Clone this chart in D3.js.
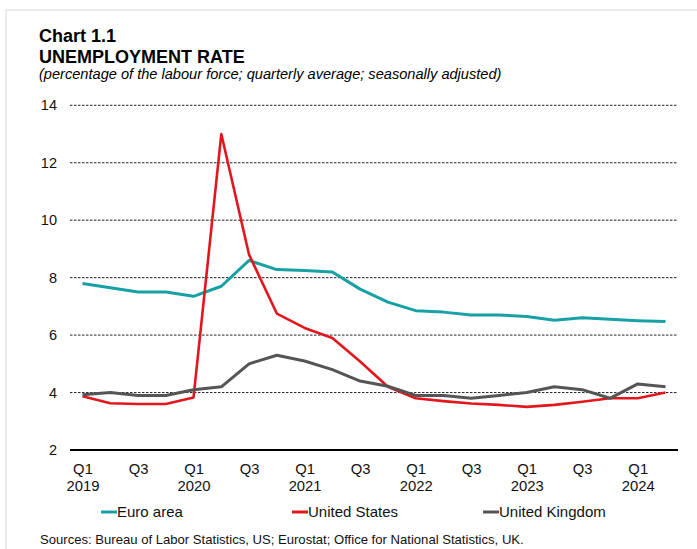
<!DOCTYPE html>
<html>
<head>
<meta charset="utf-8">
<script src="https://cdn.jsdelivr.net/npm/d3@7"></script>
<style>
  body { margin: 0; background: #fff; }
  svg { font-family: "Liberation Sans", Arial, sans-serif; }
</style>
</head>
<body>
<div id="chart"></div>
<script>
const quarters = ["Q1 2019","Q2 2019","Q3 2019","Q4 2019","Q1 2020","Q2 2020","Q3 2020","Q4 2020",
  "Q1 2021","Q2 2021","Q3 2021","Q4 2021","Q1 2022","Q2 2022","Q3 2022","Q4 2022",
  "Q1 2023","Q2 2023","Q3 2023","Q4 2023","Q1 2024","Q2 2024"];
const euroArea = [7.8, 7.65, 7.5, 7.5, 7.35, 7.7, 8.6, 8.28, 8.25, 8.2, 7.6, 7.15,
  6.85, 6.8, 6.7, 6.7, 6.65, 6.52, 6.6, 6.55, 6.5, 6.47];
const unitedStates = [3.87, 3.63, 3.6, 3.6, 3.83, 13.0, 8.8, 6.75, 6.25, 5.9, 5.08, 4.2,
  3.8, 3.7, 3.62, 3.57, 3.5, 3.57, 3.68, 3.8, 3.8, 4.0];
const unitedKingdom = [3.92, 4.0, 3.9, 3.9, 4.1, 4.2, 5.0, 5.3, 5.1, 4.8, 4.4, 4.22,
  3.9, 3.9, 3.8, 3.9, 4.0, 4.2, 4.1, 3.8, 4.3, 4.2];
const yTicks = [2, 4, 6, 8, 10, 12, 14];

const series = [
  { name: "Euro area", values: euroArea, color: "#17a1a5", width: 3 },
  { name: "United States", values: unitedStates, color: "#e3161d", width: 2.6 },
  { name: "United Kingdom", values: unitedKingdom, color: "#555555", width: 3 }
];

const W = 697, H = 549;
const plotLeft = 70, plotRight = 678;

const svg = d3.select("#chart").append("svg")
  .attr("width", W).attr("height", H);

// light frame
svg.append("rect")
  .attr("x", 6).attr("y", 10)
  .attr("width", W + 10).attr("height", H + 10)
  .attr("fill", "none").attr("stroke", "#ebebeb").attr("stroke-width", 2);

// titles
svg.append("text").attr("x", 39).attr("y", 42)
  .attr("font-size", 18).attr("font-weight", "bold").attr("fill", "#000").text("Chart 1.1");
svg.append("text").attr("x", 39).attr("y", 63)
  .attr("font-size", 18).attr("font-weight", "bold").attr("fill", "#000").text("UNEMPLOYMENT RATE");
svg.append("text").attr("x", 39).attr("y", 79)
  .attr("font-size", 14.6).attr("font-style", "italic").attr("fill", "#000")
  .text("(percentage of the labour force; quarterly average; seasonally adjusted)");

const x = d3.scalePoint()
  .domain(quarters)
  .range([plotLeft, plotRight])
  .padding(0.45);

const y = d3.scaleLinear()
  .domain([2, 14])
  .range([450, 105.3]);

// gridlines
svg.append("g").selectAll("line")
  .data(yTicks.filter(d => d > 2))
  .enter().append("line")
  .attr("x1", plotLeft).attr("x2", plotRight)
  .attr("y1", d => y(d)).attr("y2", d => y(d))
  .attr("stroke", "#222").attr("stroke-width", 1)
  .attr("stroke-dasharray", "2.5,1.5");

// y axis labels
const yAxis = svg.append("g")
  .attr("transform", `translate(${plotLeft},0)`)
  .call(d3.axisLeft(y).tickValues(yTicks).tickSize(0).tickPadding(13));
yAxis.select(".domain").remove();
yAxis.selectAll("text").attr("font-size", 14.5).attr("fill", "#111")
  .attr("font-family", "Liberation Sans, Arial, sans-serif");

// x axis
const xAxis = svg.append("g")
  .attr("transform", `translate(0,${y(2)})`)
  .call(d3.axisBottom(x)
    .tickValues(quarters.filter((q, i) => i % 2 === 0))
    .tickSize(0).tickPadding(0)
    .tickFormat(() => ""));
xAxis.select(".domain").attr("d", `M${plotLeft},0H${plotRight}`)
  .attr("stroke", "#000").attr("stroke-width", 2);
xAxis.selectAll(".tick").each(function(q) {
  const g = d3.select(this);
  const parts = q.split(" ");
  g.select("text").remove();
  g.append("text").attr("y", 24).attr("text-anchor", "middle")
    .attr("font-size", 14.8).attr("fill", "#111").text(parts[0]);
  if (parts[0] === "Q1") {
    g.append("text").attr("y", 41).attr("text-anchor", "middle")
      .attr("font-size", 14.8).attr("fill", "#111").text(parts[1]);
  }
});

// lines
const line = d3.line()
  .x((d, i) => x(quarters[i]))
  .y(d => y(d));

svg.append("g").selectAll("path")
  .data(series)
  .enter().append("path")
  .attr("d", d => line(d.values))
  .attr("fill", "none")
  .attr("stroke", d => d.color)
  .attr("stroke-width", d => d.width)
  .attr("stroke-linejoin", "round");

// legend
const legendX = [101, 292, 483];
const legend = svg.append("g").selectAll("g")
  .data(series)
  .enter().append("g")
  .attr("transform", (d, i) => `translate(${legendX[i]},512)`);
legend.append("line")
  .attr("x1", 0).attr("x2", 16)
  .attr("stroke", d => d.color).attr("stroke-width", 3);
legend.append("text")
  .attr("x", 16).attr("dy", "0.35em")
  .attr("font-size", 15).attr("fill", "#111")
  .text(d => d.name);

// source
svg.append("text").attr("x", 40).attr("y", 544)
  .attr("font-size", 13.1).attr("fill", "#111")
  .text("Sources: Bureau of Labor Statistics, US; Eurostat; Office for National Statistics, UK.");
</script>
</body>
</html>
